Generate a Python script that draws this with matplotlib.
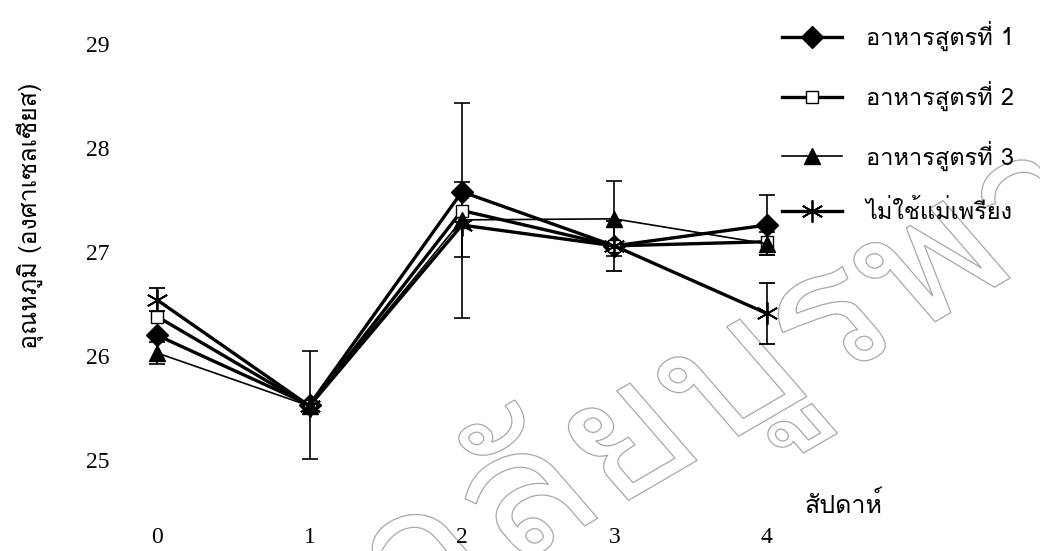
import matplotlib
matplotlib.use("Agg")
import numpy as np
import matplotlib.pyplot as plt
from matplotlib import font_manager
from matplotlib.ft2font import FT2Font
from matplotlib.lines import Line2D
from matplotlib.patches import PathPatch
from matplotlib.textpath import TextPath, text_to_path
from matplotlib.transforms import Affine2D

# weekly water temperature, mean and SD per treatment (nan = no bar drawn)
weeks = [0, 1, 2, 3, 4]
labels = ["อาหารสูตรที่ 1", "อาหารสูตรที่ 2", "อาหารสูตรที่ 3", "ไม่ใช้แม่เพรียง"]
temp_1 = [26.20, 25.53, 27.58, 27.06, 27.26]
temp_2 = [26.38, 25.52, 27.40, 27.06, 27.10]
temp_3 = [26.03, 25.52, 27.31, 27.32, 27.08]
temp_4 = [26.54, 25.52, 27.26, 27.06, 26.41]
sd_1 = [np.nan, 0.52, np.nan, np.nan, 0.29]
sd_2 = [np.nan, np.nan, 1.03, np.nan, np.nan]
sd_3 = [0.11, np.nan, 0.36, 0.36, 0.11]
sd_4 = [0.11, np.nan, np.nan, 0.24, 0.29]
ytick_vals = [25, 26, 27, 28, 29]
stamp = "มหาวิทยาลัยบูรพา"

W, H = 1040, 551


def find_thai_font():
    # first installed font that has Thai glyphs
    seen = set()
    for f in font_manager.fontManager.ttflist:
        if f.fname in seen:
            continue
        seen.add(f.fname)
        try:
            cmap = FT2Font(f.fname).get_charmap()
        except Exception:
            continue
        if 0x0E2D in cmap and 0x0E39 in cmap:
            return f.name
    return "DejaVu Sans"


thai = find_thai_font()

fig = plt.figure(figsize=(W / 100, H / 100), dpi=100)
ax = fig.add_axes([119 / W, 39 / H, (843 - 119) / W, (512 - 13) / H])
ax.patch.set_alpha(0)


def add_stamp():
    # outlined university stamp, slanted and stretched like the scanned page
    prop = font_manager.FontProperties(family=thai, size=100)
    w_ref = text_to_path.get_text_width_height_descent("ยบูร", prop, ismath=False)[0]
    size = 100 * 300 / w_ref
    prop.set_size(size)
    pre = text_to_path.get_text_width_height_descent("มหาวิทยาลั", prop, ismath=False)[0]
    path = TextPath((0, 0), stamp, size=size, prop=prop)
    tr = (Affine2D().translate(-pre, 0).rotate_deg(35.4).scale(1.22, 1.0)
          .translate(612, H - 510))
    patch = PathPatch(tr.transform_path(path), facecolor="none",
                      edgecolor="#a8a8a8", lw=0.9, transform=None, zorder=-5)
    fig.patches.append(patch)
    patch.set_figure(fig)


add_stamp()

styles = [
    dict(marker="D", ms=11, mfc="black", lw=2.4),
    dict(marker="s", ms=9, mfc="white", lw=2.4),
    dict(marker="^", ms=11, mfc="black", lw=1.2),
    dict(marker=(6, 2, 0), ms=16, mfc="black", lw=2.4, mew=1.3),
]
series = [(temp_1, sd_1), (temp_2, sd_2), (temp_3, sd_3), (temp_4, sd_4)]
handles = []
for (y, err), style, lab in zip(series, styles, labels):
    ax.errorbar(weeks, y, yerr=err, color="black", mec="black", ecolor="black",
                elinewidth=1.2, capsize=5.5, capthick=1.2, **style)
    handles.append(Line2D([], [], color="black", mec="black", label=lab, **style))

ax.set_xlim(-0.25, 4.5)
ax.set_ylim(24.5, 29.3)
ax.set_xticks(weeks)
ax.set_yticks(ytick_vals)
for s in ax.spines.values():
    s.set_visible(False)
ax.tick_params(length=0, labelsize=17)
ax.tick_params(axis="y", pad=7)
ax.tick_params(axis="x", pad=11)
for t in ax.get_xticklabels() + ax.get_yticklabels():
    t.set_fontfamily("Liberation Serif")

fig.text(30 / W, 1 - 216 / H, "อุณหภูมิ (องศาเซลเซียส)", rotation=90,
         ha="center", va="center", fontsize=18, family=[thai, "DejaVu Sans"])
fig.text(805 / W, 1 - 505 / H, "สัปดาห์", ha="left", va="center",
         fontsize=18, family=[thai, "DejaVu Sans"])

ax.legend(handles=handles, loc="upper left",
          bbox_to_anchor=(761 / W, 1.0),
          bbox_transform=fig.transFigure, frameon=False, handlelength=2.55,
          labelspacing=1.25, handletextpad=1.0,
          prop=dict(family=thai, size=17))

fig.savefig("out.png", dpi=100)
